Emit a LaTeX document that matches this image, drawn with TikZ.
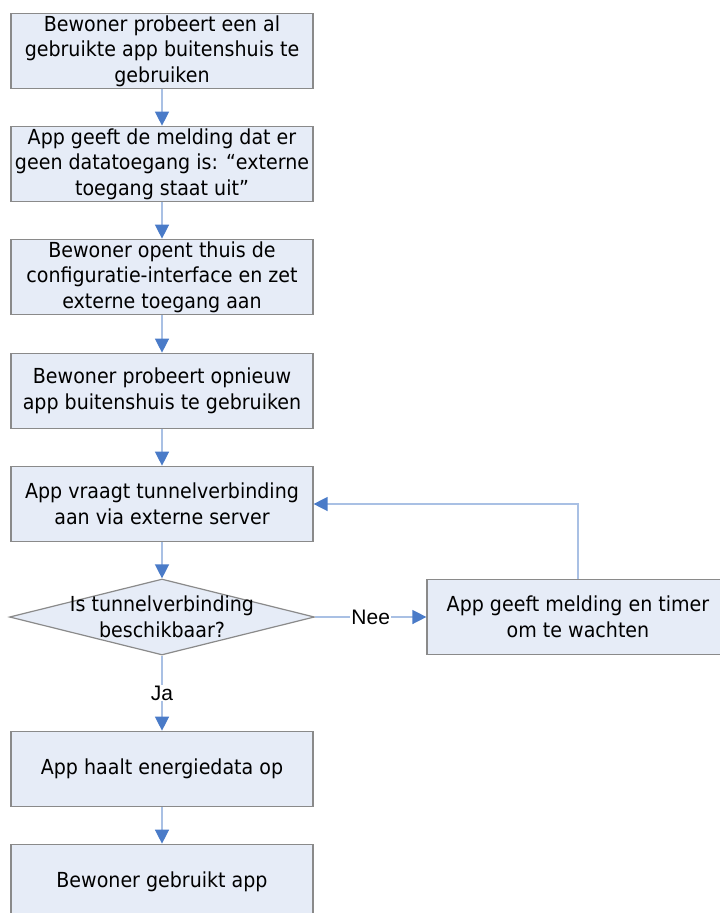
\documentclass[tikz,border=0pt]{standalone}
\usepackage{fontspec}
\setmainfont{DejaVu Sans}[FakeStretch=0.92]
\newfontfamily\labelfont{Liberation Sans}
\usetikzlibrary{arrows.meta,shapes.geometric}
\definecolor{boxfill}{HTML}{E6ECF7}
\definecolor{boxdraw}{HTML}{8A8A8A}
\definecolor{linec}{HTML}{A9C0E4}
\definecolor{tipc}{HTML}{4A7BC8}
\begin{document}
\begin{tikzpicture}[x=1pt,y=-1pt,
  stepbox/.style={draw=boxdraw,fill=boxfill,line width=1.2pt,minimum width=302pt,minimum height=75.5pt,align=center,inner sep=0pt,font=\fontsize{20.7}{25.5}\selectfont},
  decision/.style={diamond,draw=boxdraw,fill=boxfill,line width=1.2pt,minimum width=305pt,minimum height=76pt,inner sep=0pt},
  dtext/.style={align=center,inner sep=0pt,font=\fontsize{20.7}{26}\selectfont},
  flow/.style={draw=linec,line width=1.4pt,-{Triangle[length=14pt,width=14pt,color=tipc,fill=tipc]}},
  lbl/.style={fill=white,inner sep=1pt,font=\labelfont\fontsize{21}{24}\selectfont}]
\useasboundingbox (0,0) rectangle (720,913);
\clip (0,0) rectangle (720,913);
\node[stepbox] (b1) at (162,51) {Bewoner probeert een al\\gebruikte app buitenshuis te\\gebruiken};
\node[stepbox] (b2) at (162,164) {App geeft de melding dat er\\geen datatoegang is: “externe\\toegang staat uit”};
\node[stepbox] (b3) at (162,277) {Bewoner opent thuis de\\configuratie-interface en zet\\externe toegang aan};
\node[stepbox] (b4) at (162,391) {Bewoner probeert opnieuw\\app buitenshuis te gebruiken};
\node[stepbox] (b5) at (162,504) {App vraagt tunnelverbinding\\aan via externe server};
\node[decision] (d) at (162,617) {};
\node[dtext] (dt) at (d.center) {Is tunnelverbinding\\beschikbaar?};
\node[stepbox] (r) at (578,617) {App geeft melding en timer\\om te wachten};
\node[stepbox] (b6) at (162,769) {App haalt energiedata op};
\node[stepbox] (b7) at (162,882) {Bewoner gebruikt app};
\draw[flow] (b1) -- (b2);
\draw[flow] (b2) -- (b3);
\draw[flow] (b3) -- (b4);
\draw[flow] (b4) -- (b5);
\draw[flow] (b5) -- (d);
\draw[flow] (d.east) -- node[lbl] (nee) {Nee} (r.west);
\draw[flow] (d.south) -- node[lbl] (ja) {Ja} (b6.north);
\draw[flow] (b6) -- (b7);
\draw[flow] (r.north) |- (b5.east);
\end{tikzpicture}
\end{document}
